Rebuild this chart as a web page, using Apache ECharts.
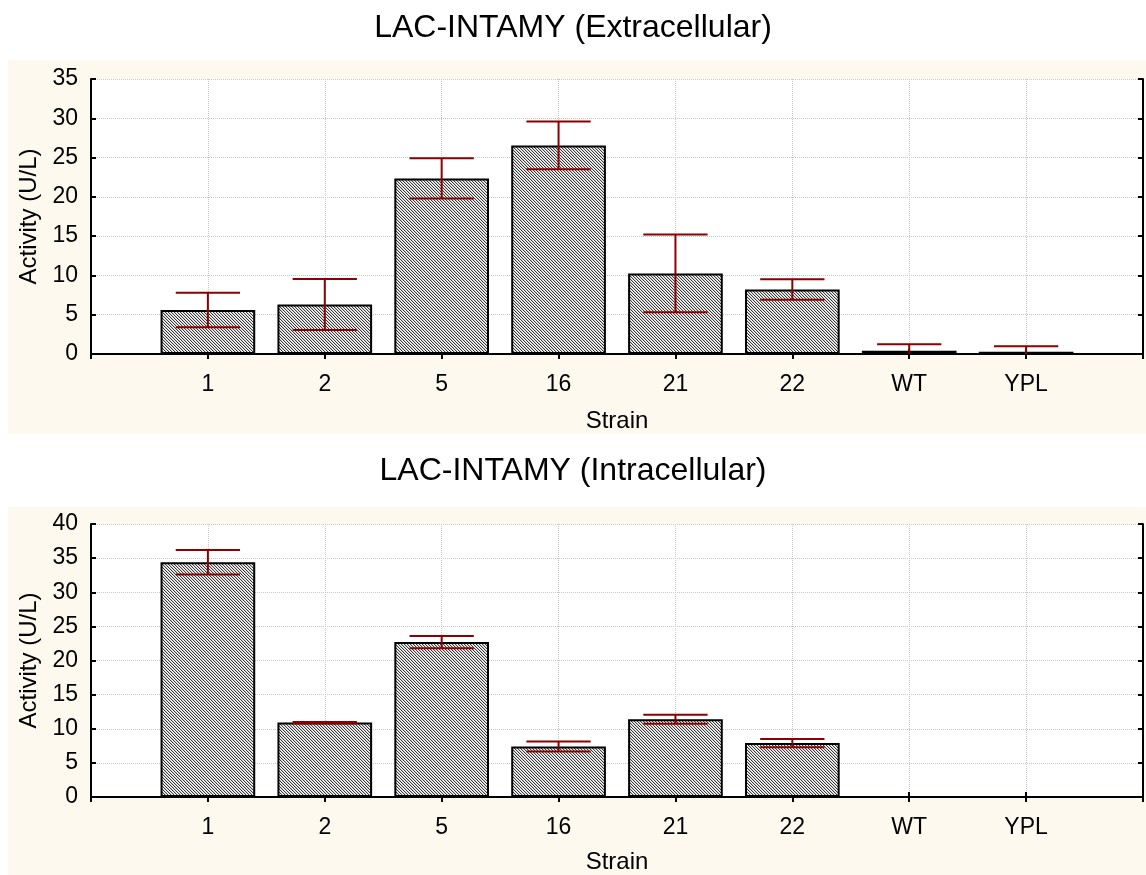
<!DOCTYPE html>
<html>
<head>
<meta charset="utf-8">
<script src="https://cdn.jsdelivr.net/npm/echarts@6/dist/echarts.min.js"></script>
<style>
html,body{margin:0;padding:0;background:#fff;}
#chart{width:1146px;height:875px;}
</style>
</head>
<body>
<div id="chart"></div>
<script>
// ---- data ----
const strains = ['1', '2', '5', '16', '21', '22', 'WT', 'YPL'];
const extMean = [5.6, 6.3, 22.35, 26.55, 10.25, 8.2, 0.4, 0.3];
const extErr  = [2.2, 3.25, 2.55, 3.05, 4.95, 1.3, 0.85, 0.7];
const intMean = [34.4, 10.9, 22.7, 7.4, 11.4, 7.9, 0, 0];
const intErr  = [1.8, 0.1, 0.9, 0.72, 0.65, 0.6, 0, 0];
const extTicks = [0, 5, 10, 15, 20, 25, 30, 35];
const intTicks = [0, 5, 10, 15, 20, 25, 30, 35, 40];
const titles = ['LAC-INTAMY (Extracellular)', 'LAC-INTAMY (Intracellular)'];
const xName = 'Strain';
const yName = 'Activity (U/L)';

// hatch pattern
const pc = document.createElement('canvas');
pc.width = 3; pc.height = 3;
const pctx = pc.getContext('2d');
pctx.fillStyle = '#ffffff'; pctx.fillRect(0, 0, 3, 3);
for (let i = 0; i < 3; i++) {
  pctx.fillStyle = '#3a3a3a'; pctx.fillRect(i, i, 1, 1);
  pctx.fillStyle = '#cccccc'; pctx.fillRect((i + 1) % 3, i, 1, 1);
}
const hatch = { image: pc, repeat: 'repeat' };

const FONT = 'Liberation Sans, Arial, sans-serif';
const cats = [''].concat(strains, ['']);
const pad = arr => [null].concat(arr, [null]);
const errData = (m, e) => m.map((v, i) => [i + 1, v, e[i]]);

const chart = echarts.init(document.getElementById('chart'), null, { renderer: 'canvas' });

function errRender(params, api) {
  const idx = api.value(0), m = api.value(1), e = api.value(2);
  if (!(e > 0)) return null;
  const bw = api.size([1, 0])[0];
  const hw = bw * 0.275;
  const top = api.coord([idx, m + e]);
  const lowVal = Math.max(m - e, 0);
  const bot = api.coord([idx, lowVal]);
  const style = { stroke: '#8b0000', lineWidth: 2 };
  const children = [
    { type: 'line', shape: { x1: top[0], y1: top[1], x2: bot[0], y2: bot[1] }, style },
    { type: 'line', shape: { x1: top[0] - hw, y1: top[1], x2: top[0] + hw, y2: top[1] }, style }
  ];
  if (m - e >= 0) {
    children.push({ type: 'line', shape: { x1: bot[0] - hw, y1: bot[1], x2: bot[0] + hw, y2: bot[1] }, style });
  }
  return { type: 'group', children };
}

const grids = [
  { left: 91, top: 79, right: -3, height: 275 },
  { left: 91, top: 524, right: -3, height: 275 }
];

function xAxes(gi, nameGap) {
  return [
    {
      type: 'category', gridIndex: gi, data: cats, boundaryGap: false, position: 'bottom',
      name: xName, nameLocation: 'middle', nameGap: nameGap,
      nameTextStyle: { fontFamily: FONT, fontSize: 24, color: '#000' },
      axisLine: { lineStyle: { color: '#000', width: 2 } },
      axisTick: { show: true, inside: true, length: 5, lineStyle: { color: '#000', width: 2 } },
      axisLabel: { fontFamily: FONT, fontSize: 23, color: '#000', margin: 19, interval: 0 },
      splitLine: { show: true, lineStyle: { color: '#c8c8c8', type: 'dotted', width: 1 } }
    },
    {
      type: 'category', gridIndex: gi, data: cats, boundaryGap: false, position: 'top',
      axisLine: { lineStyle: { color: '#000', width: 2 } },
      axisTick: { show: true, inside: true, length: 5, lineStyle: { color: '#000', width: 2 } },
      axisLabel: { show: false }, splitLine: { show: false }
    }
  ];
}
function yAxes(gi, ticks) {
  const mx = ticks[ticks.length - 1];
  return [
    {
      type: 'value', gridIndex: gi, min: 0, max: mx, interval: 5, position: 'left',
      name: yName, nameLocation: 'middle', nameGap: 50,
      nameTextStyle: { fontFamily: FONT, fontSize: 24, color: '#000' },
      axisLine: { show: true, lineStyle: { color: '#000', width: 2 } },
      axisTick: { show: true, inside: true, length: 5, lineStyle: { color: '#000', width: 2 } },
      axisLabel: { fontFamily: FONT, fontSize: 23, color: '#000', margin: 13 },
      splitLine: { show: true, lineStyle: { color: '#c8c8c8', type: 'dotted', width: 1 } }
    },
    {
      type: 'value', gridIndex: gi, min: 0, max: mx, interval: 5, position: 'right',
      axisLine: { show: true, lineStyle: { color: '#000', width: 2 } },
      axisTick: { show: true, inside: true, length: 5, lineStyle: { color: '#000', width: 2 } },
      axisLabel: { show: false }, splitLine: { show: false }
    }
  ];
}

const barStyle = { color: hatch, borderColor: '#000', borderWidth: 2 };

const option = {
  backgroundColor: '#fff',
  animation: false,
  graphic: [
    { type: 'rect', shape: { x: 8, y: 60, width: 1140, height: 374 }, style: { fill: '#fdf9ee' }, z: -10 },
    { type: 'rect', shape: { x: 8, y: 507, width: 1140, height: 368 }, style: { fill: '#fdf9ee' }, z: -10 }
  ],
  title: [
    { text: titles[0], left: 'center', top: 7, textStyle: { fontFamily: FONT, fontSize: 32, fontWeight: 'normal', color: '#000' } },
    { text: titles[1], left: 'center', top: 450, textStyle: { fontFamily: FONT, fontSize: 32, fontWeight: 'normal', color: '#000' } }
  ],
  grid: grids.map(g => Object.assign({ show: true, backgroundColor: '#fff', borderWidth: 0 }, g)),
  xAxis: xAxes(0, 55).concat(xAxes(1, 53)),
  yAxis: yAxes(0, extTicks).concat(yAxes(1, intTicks)),
  series: [
    { type: 'bar', xAxisIndex: 0, yAxisIndex: 0, data: pad(extMean), barWidth: '81%', itemStyle: barStyle, z: 2 },
    { type: 'custom', xAxisIndex: 0, yAxisIndex: 0, data: errData(extMean, extErr), renderItem: errRender, z: 5 },
    { type: 'bar', xAxisIndex: 2, yAxisIndex: 2, data: pad(intMean), barWidth: '81%', itemStyle: barStyle, z: 2 },
    { type: 'custom', xAxisIndex: 2, yAxisIndex: 2, data: errData(intMean, intErr), renderItem: errRender, z: 5 }
  ]
};
chart.setOption(option);
</script>
</body>
</html>
